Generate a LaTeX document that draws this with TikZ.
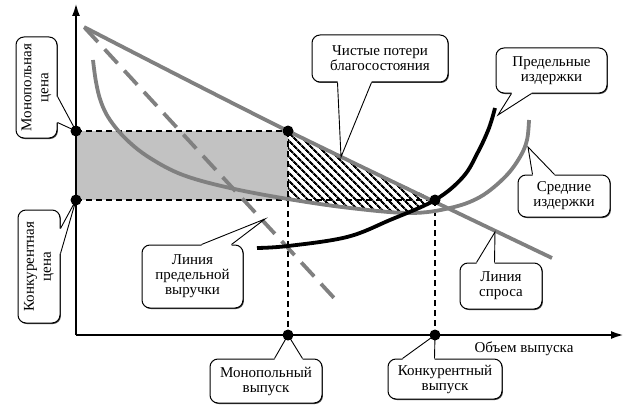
\documentclass[tikz,border=0pt]{standalone}
\usepackage{fontspec}
\setmainfont{Liberation Serif}
\usetikzlibrary{arrows.meta,patterns.meta,calc,shadows}
\definecolor{cg}{gray}{0.5}
\definecolor{fg}{gray}{0.76}
\newcommand\ptr[4]{%
  \fill[white] ($(#1)+#4$) -- (#1) -- (#3) -- (#2) -- ($(#2)+#4$) -- cycle;
  \draw[ptrline] (#1) -- (#3) -- (#2);}
\begin{document}
\begin{tikzpicture}[x=1pt,y=-1pt,
  font=\fontsize{15}{17}\selectfont,
  curve/.style={line width=3.8pt, cg},
  guide/.style={line width=1.5pt, black, dash pattern=on 6pt off 4pt},
  axis/.style={line width=2.3pt, black, -{Latex[length=13pt,width=8pt]}},
  dot/.style={circle, fill=black, inner sep=0pt, minimum size=11pt},
  box/.style={draw, line width=1pt, rounded corners=8pt, fill=white, align=center,
    inner sep=1pt, drop shadow={shadow xshift=0.9pt, shadow yshift=-1pt, fill=black, opacity=0.75}},
  ptrline/.style={line width=0.9pt, black}]
\useasboundingbox (0,0) rectangle (640,412);

% monopoly rectangle
\fill[fg] (76,131) rectangle (288,200);
% deadweight loss
\fill[pattern={Lines[angle=-45, distance=5.4pt, line width=2.2pt]}, pattern color=black]
  (288,131) -- (435,200) -- (420,207) -- (405,213) -- (380,211) -- (350,208) -- (320,203) -- (288,199) -- cycle;

% guide lines
\draw[guide] (76,131) -- (288,131);
\draw[guide] (76,200) -- (435,200);
\draw[guide] (288,131) -- (288,335);
\draw[guide] (435,200) -- (435,335);

% average cost
\draw[curve] plot[smooth, tension=0.6] coordinates {(93,60) (96,82) (101,102) (110,120) (127,140) (150,158) (183,175) (230,188) (288,199) (350,208) (410,213) (450,208) (480,197) (505,177) (520,157) (527,140) (529,120)};
% marginal revenue
\draw[curve, dash pattern=on 19pt off 10pt] (85,28) -- (335,299);
% demand
\draw[curve] plot[smooth] coordinates {(84,27) (288,131) (552,258)};
% marginal cost
\draw[line width=3.8pt, black] plot[smooth, tension=0.6] coordinates {(257,248) (288,246) (347,237) (390,220) (435,200) (463,177) (478,152) (489,128) (495,108)};

% axes
\coordinate (O) at (76,335);
\coordinate (Ytop) at (76,3);
\coordinate (Xend) at (624,335);
\draw[axis] (O) -- (Ytop);
\draw[axis] (O) -- (Xend);
\node[anchor=center] (xl) at (524,349) {Объем выпуска};

% callouts
\node[box, minimum width=41pt, minimum height=101pt] (mp) at (36.5,87.5)
  {\rotatebox{90}{\begin{tabular}{@{}c@{}}Монопольная\\цена\end{tabular}}};
\coordinate (mp1) at ($(mp.north east)+(0,60)$);
\coordinate (mp2) at ($(mp.north east)+(0,86)$);
\coordinate (mpt) at (76,131);
\ptr{mp1}{mp2}{mpt}{(-2,0)}

\node[box, minimum width=42pt, minimum height=113pt] (kp) at (39,266.5)
  {\rotatebox{90}{\begin{tabular}{@{}c@{}}Конкурентная\\цена\end{tabular}}};
\coordinate (kp1) at ($(kp.north east)+(0,19)$);
\coordinate (kp2) at ($(kp.north east)+(0,44)$);
\coordinate (kpt) at (76,200);
\ptr{kp1}{kp2}{kpt}{(-2,0)}

\node[box, minimum width=136pt, minimum height=47pt] (cp) at (380,58.5)
  {Чистые потери\\[-2pt]благосостояния};
\coordinate (cp1) at ($(cp.south west)+(26,0)$);
\coordinate (cp2) at ($(cp.south west)+(60,0)$);
\coordinate (cpt) at (341,157);
\ptr{cp1}{cp2}{cpt}{(0,-2)}

\node[box, minimum width=111pt, minimum height=45pt] (mc) at (551.5,70.5)
  {Предельные\\[-2pt]издержки};
\coordinate (mc1) at ($(mc.south west)+(16,0)$);
\coordinate (mc2) at ($(mc.south west)+(36,0)$);
\coordinate (mct) at (498,115);
\ptr{mc1}{mc2}{mct}{(0,-2)}

\node[box, minimum width=92pt, minimum height=42pt] (ac) at (564,196)
  {Средние\\[-2pt]издержки};
\coordinate (ac1) at ($(ac.north west)+(15,0)$);
\coordinate (ac2) at ($(ac.north west)+(37,0)$);
\coordinate (act) at (528,147);
\ptr{ac1}{ac2}{act}{(0,2)}

\node[box, minimum width=101pt, minimum height=63pt] (mr) at (192.5,276.5)
  {Линия\\[-2pt]предельной\\[-2pt]выручки};
\coordinate (mr1) at ($(mr.north west)+(60,0)$);
\coordinate (mr2) at ($(mr.north west)+(90,0)$);
\coordinate (mrt) at (265,219);
\ptr{mr1}{mr2}{mrt}{(0,2)}

\node[box, minimum width=82pt, minimum height=46pt] (dm) at (501,286)
  {Линия\\[-2pt]спроса};
\coordinate (dm1) at ($(dm.north west)+(17,0)$);
\coordinate (dm2) at ($(dm.north west)+(35,0)$);
\coordinate (dmt) at (495,232);
\ptr{dm1}{dm2}{dmt}{(0,2)}

\node[box, minimum width=112pt, minimum height=44pt] (mo) at (266,381)
  {Монопольный\\[-2pt]выпуск};
\coordinate (mo1) at ($(mo.north west)+(65,0)$);
\coordinate (mo2) at ($(mo.north west)+(93,0)$);
\coordinate (mot) at (288,335);
\ptr{mo1}{mo2}{mot}{(0,2)}

\node[box, minimum width=114pt, minimum height=40pt] (co) at (445,379)
  {Конкурентный\\[-2pt]выпуск};
\coordinate (co1) at ($(co.north west)+(15,0)$);
\coordinate (co2) at ($(co.north west)+(47,0)$);
\coordinate (cot) at (435,335);
\ptr{co1}{co2}{cot}{(0,2)}

% dots
\node[dot] (d1) at (76,131) {};
\node[dot] (d2) at (288,131) {};
\node[dot] (d3) at (76,200) {};
\node[dot] (d4) at (435,200) {};
\node[dot] (d5) at (288,335) {};
\node[dot] (d6) at (435,335) {};
\end{tikzpicture}
\end{document}
